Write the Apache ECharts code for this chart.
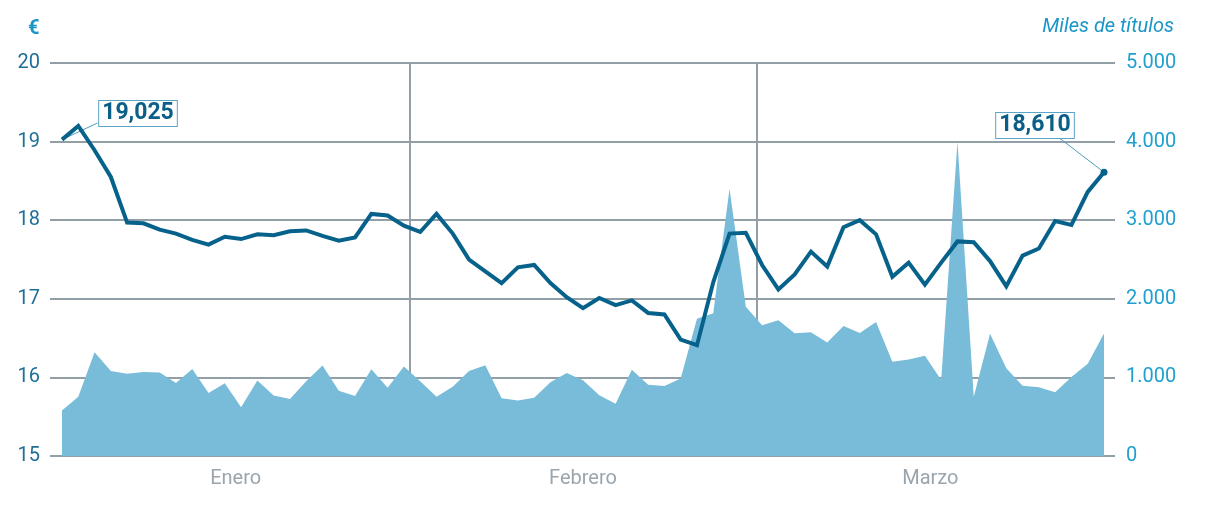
<!DOCTYPE html>
<html><head><meta charset="utf-8">
<script src="https://cdn.jsdelivr.net/npm/echarts@6/dist/echarts.min.js"></script>
<style>html,body{margin:0;padding:0;background:#fff}#c{width:1214px;height:510px}</style>
</head><body><div id="c"></div>
<script>
// Trading sessions (January - March)
const days = ['1','2','3','4','5','6','7','8','9','10','11','12','13','14','15','16','17','18','19','20',
  '21','22','23','24','25','26','27','28','29','30','31','32','33','34','35','36','37','38','39','40',
  '41','42','43','44','45','46','47','48','49','50','51','52','53','54','55','56','57','58','59','60',
  '61','62','63','64','65'];
const months = ['Enero', 'Febrero', 'Marzo'];

// Share price (€)
const price = [19.025, 19.20, 18.89, 18.55, 17.97, 17.96, 17.88, 17.83, 17.75, 17.69,
  17.79, 17.76, 17.82, 17.81, 17.86, 17.87, 17.80, 17.74, 17.78, 18.08,
  18.06, 17.93, 17.85, 18.08, 17.83, 17.50, 17.35, 17.20, 17.40, 17.43,
  17.20, 17.02, 16.88, 17.01, 16.92, 16.98, 16.82, 16.80, 16.48, 16.41,
  17.21, 17.83, 17.84, 17.43, 17.12, 17.31, 17.60, 17.41, 17.91, 18.00,
  17.82, 17.28, 17.46, 17.18, 17.46, 17.73, 17.72, 17.48, 17.16, 17.55,
  17.64, 17.99, 17.94, 18.36, 18.61];

// Traded volume (miles de títulos)
const volume = [580, 755, 1320, 1080, 1048, 1070, 1062, 928, 1108, 800,
  925, 620, 962, 770, 725, 950, 1150, 830, 763, 1103,
  869, 1140, 950, 755, 880, 1080, 1155, 735, 705, 740,
  937, 1055, 965, 772, 666, 1098, 905, 890, 985, 1745,
  1815, 3400, 1898, 1665, 1728, 1563, 1576, 1443, 1654, 1565,
  1705, 1198, 1228, 1274, 966, 4000, 755, 1555, 1115, 895,
  874, 811, 1004, 1173, 1559];

const priceTicks = [15, 16, 17, 18, 19, 20];
const volumeTicks = [0, 1000, 2000, 3000, 4000, 5000];

// Highlighted values
const callouts = [{ index: 0, text: '19,025' }, { index: 64, text: '18,610' }];

const FONT = 'Roboto, "DejaVu Sans", sans-serif';
const GRID = '#929fa7';
const LINE = '#07628b';
const AREA = '#78bcd9';

const chart = echarts.init(document.getElementById('c'), null, { renderer: 'canvas' });

const calloutMap = {};
callouts.forEach(c => { calloutMap[c.index] = c.text; });
const lastIdx = price.length - 1;

const priceData = price.map((v, i) => {
  const item = { value: v };
  if (calloutMap[i] !== undefined) {
    item.label = {
      show: true,
      formatter: calloutMap[i],
      fontFamily: FONT,
      fontWeight: 'bold',
      fontSize: 23,
      color: '#0a5f87',
      backgroundColor: '#ffffff',
      borderColor: '#5aa4c6',
      borderWidth: 1,
      padding: [2, 3, 0, 3]
    };
  }
  return item;
});

// label placement (px) and where each guide line meets its label box (px)
const calloutPos = { 0: [138, 113.5], 64: [1035, 125.5] };
const guideEnd = { 0: [97.5, 123], 64: [1060, 138.5] };

const guideLines = callouts.map(c => [
  { coord: [days[c.index], price[c.index]] },
  { x: guideEnd[c.index][0], y: guideEnd[c.index][1] }
]);

chart.setOption({
  animation: false,
  backgroundColor: '#ffffff',
  textStyle: { fontFamily: FONT },
  grid: { left: 62, right: 110, top: 63, bottom: 54, containLabel: false },
  graphic: [
    { type: 'text', left: 28, top: 19, style: { text: '€', fontFamily: FONT, fontWeight: 'bold', fontSize: 20, fill: '#1a96c7' } },
    { type: 'text', right: 40, top: 17, style: { text: 'Miles de títulos', fontFamily: FONT, fontStyle: 'italic', fontSize: 20, fill: '#1a96c7' } }
  ],
  xAxis: [
    { type: 'category', data: days, boundaryGap: false, show: false },
    {
      type: 'category', data: months, boundaryGap: true, position: 'bottom',
      axisLine: { show: false }, axisTick: { show: false },
      axisLabel: { color: '#9aa5ad', fontSize: 20, fontFamily: FONT, margin: 13 },
      splitLine: { show: true, showMinLine: false, showMaxLine: false, lineStyle: { color: GRID, width: 2 } }
    }
  ],
  yAxis: [
    {
      type: 'value', min: priceTicks[0], max: priceTicks[priceTicks.length - 1], interval: 1, position: 'left',
      axisLine: { show: false },
      axisTick: { show: true, length: 12, lineStyle: { color: GRID, width: 2 } },
      axisLabel: { color: '#1f6f98', fontSize: 20, fontFamily: FONT, margin: 22 },
      splitLine: { show: true, lineStyle: { color: GRID, width: 2 } }
    },
    {
      type: 'value', min: volumeTicks[0], max: volumeTicks[volumeTicks.length - 1], interval: 1000, position: 'right',
      axisLine: { show: false },
      axisTick: { show: true, length: 11, lineStyle: { color: GRID, width: 2 } },
      axisLabel: {
        color: '#20a0d0', fontSize: 20, fontFamily: FONT, margin: 22,
        formatter: v => String(v).replace(/\B(?=(\d{3})+(?!\d))/g, '.')
      },
      splitLine: { show: false }
    }
  ],
  series: [
    {
      name: 'Volumen', type: 'line', xAxisIndex: 0, yAxisIndex: 1, data: volume,
      symbol: 'none', lineStyle: { width: 0 }, areaStyle: { color: AREA, opacity: 1 }, z: 2, silent: true
    },
    {
      name: 'Cotización', type: 'line', xAxisIndex: 0, yAxisIndex: 0, data: priceData,
      symbol: 'circle', showSymbol: true, showAllSymbol: true,
      symbolSize: (val, params) => params.dataIndex === lastIdx ? 7 : 0,
      itemStyle: { color: LINE },
      lineStyle: { color: LINE, width: 4, join: 'miter' },
      label: { show: false },
      labelLine: { show: false },
      labelLayout: params => {
        const p = calloutPos[params.dataIndex];
        if (!p) return {};
        return { x: p[0], y: p[1], align: 'center', verticalAlign: 'middle' };
      },
      markLine: {
        silent: true, animation: false, symbol: 'none',
        label: { show: false },
        lineStyle: { color: '#4f9dc1', width: 1, type: 'solid' },
        emphasis: { disabled: true },
        data: guideLines,
        z: 4
      },
      z: 5, silent: true
    }
  ]
});
</script>
</body></html>
